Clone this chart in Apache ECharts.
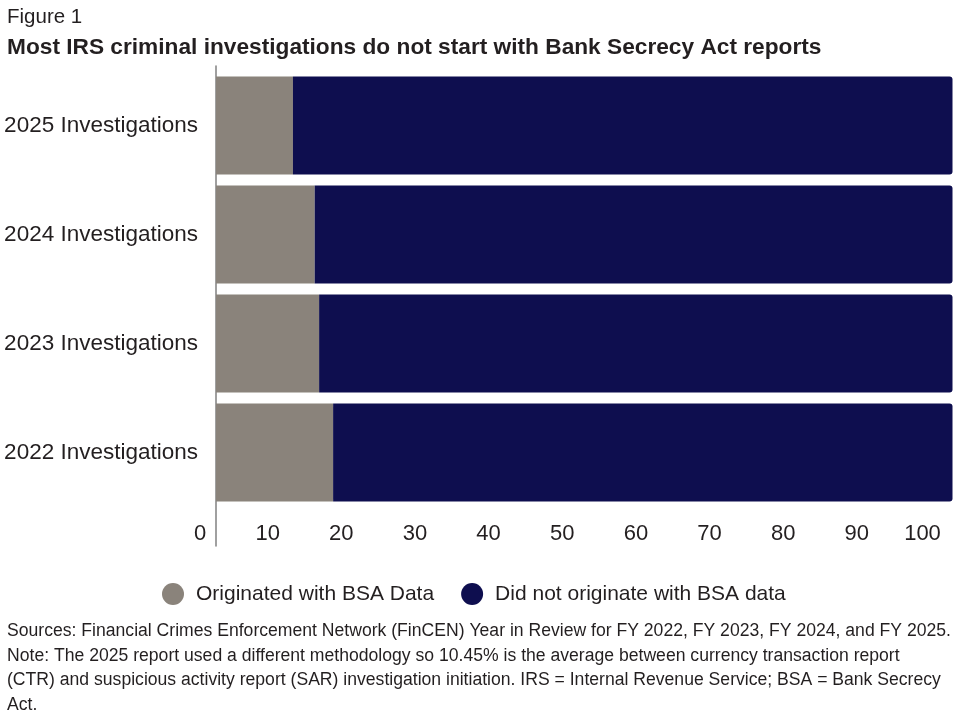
<!DOCTYPE html>
<html>
<head>
<meta charset="utf-8">
<script src="https://cdn.jsdelivr.net/npm/echarts@6/dist/echarts.min.js"></script>
<style>
  html, body { margin: 0; padding: 0; background: #fff; }
  #main { width: 971px; height: 718px; }
</style>
</head>
<body>
<div id="main"></div>
<script>
// categories, top to bottom
var categories = ['2025 Investigations', '2024 Investigations', '2023 Investigations', '2022 Investigations'];
// share (%) of investigations that originated with BSA data
var withBsa = [10.45, 13.4, 14.0, 15.9];
var withoutBsa = withBsa.map(function (v) { return +(100 - v).toFixed(2); });
var tickValues = [0, 10, 20, 30, 40, 50, 60, 70, 80, 90, 100];
var seriesNames = ['Originated with BSA Data', 'Did not originate with BSA data'];

var FONT = '"Liberation Sans", Arial, sans-serif';
var TEXT = '#231f20';

var footnote = [
    'Sources: Financial Crimes Enforcement Network (FinCEN) Year in Review for FY 2022, FY 2023, FY 2024, and FY 2025.',
    'Note: The 2025 report used a different methodology so 10.45% is the average between currency transaction report',
    '(CTR) and suspicious activity report (SAR) investigation initiation. IRS = Internal Revenue Service; BSA = Bank Secrecy',
    'Act.'
].join('\n');

var myChart = echarts.init(document.getElementById('main'));

var option = {
    backgroundColor: '#fff',
    textStyle: { fontFamily: FONT },
    title: [{
        text: 'Figure 1',
        left: 2,
        top: 2,
        textStyle: { fontSize: 20.5, fontWeight: 'normal', color: TEXT, fontFamily: FONT }
    }, {
        text: 'Most IRS criminal investigations do not start with Bank Secrecy Act reports',
        left: 2,
        top: 31,
        textStyle: { fontSize: 22.7, fontWeight: 'bold', color: TEXT, fontFamily: FONT }
    }, {
        text: footnote,
        left: 2,
        top: 614,
        textStyle: { fontSize: 17.6, fontWeight: 'normal', color: TEXT, lineHeight: 24.5, fontFamily: FONT }
    }],
    legend: {
        data: seriesNames,
        left: 157,
        top: 578,
        icon: 'circle',
        itemWidth: 22,
        itemHeight: 22,
        itemGap: 27,
        textStyle: { fontSize: 21, color: TEXT, padding: [0, 0, 0, 7], fontFamily: FONT }
    },
    grid: [{
        left: 216,
        right: 18.5,
        top: 71,
        height: 436
    }, {
        // only carries the long vertical axis line
        left: 216,
        width: 1,
        top: 66,
        height: 480
    }],
    xAxis: [{
        type: 'value',
        gridIndex: 0,
        min: 0,
        max: 100,
        interval: 10,
        splitLine: { show: false },
        axisLine: { show: false },
        axisTick: { show: false },
        axisLabel: {
            customValues: tickValues,
            margin: 16,
            fontSize: 22,
            color: TEXT,
            formatter: function (v) {
                if (v === 0) return '{z|0}';
                if (v === 100) return '{h|100}';
                return '{m|' + v + '}';
            },
            rich: {
                z: { fontSize: 22, color: TEXT, padding: [0, 32, 0, 0] },
                m: { fontSize: 22, color: TEXT, padding: [0, 44, 0, 0] },
                h: { fontSize: 22, color: TEXT, padding: [0, 60, 0, 0] }
            }
        }
    }, {
        type: 'value',
        gridIndex: 1,
        show: false
    }],
    yAxis: [{
        type: 'category',
        gridIndex: 0,
        data: categories,
        inverse: true,
        axisLine: { show: false },
        axisTick: { show: false },
        axisLabel: { fontSize: 22.5, color: TEXT, margin: 18, padding: [8, 0, 0, 0] }
    }, {
        type: 'value',
        gridIndex: 1,
        axisLine: { show: true, lineStyle: { color: '#808080', width: 1.5 } },
        axisTick: { show: false },
        axisLabel: { show: false },
        splitLine: { show: false }
    }],
    series: [{
        name: seriesNames[0],
        type: 'bar',
        stack: 'total',
        barCategoryGap: '10%',
        itemStyle: { color: '#8a837b' },
        data: withBsa
    }, {
        name: seriesNames[1],
        type: 'bar',
        stack: 'total',
        barCategoryGap: '10%',
        itemStyle: { color: '#0e0e4f', borderRadius: [0, 3, 3, 0] },
        data: withoutBsa
    }]
};

myChart.setOption(option);
</script>
</body>
</html>
